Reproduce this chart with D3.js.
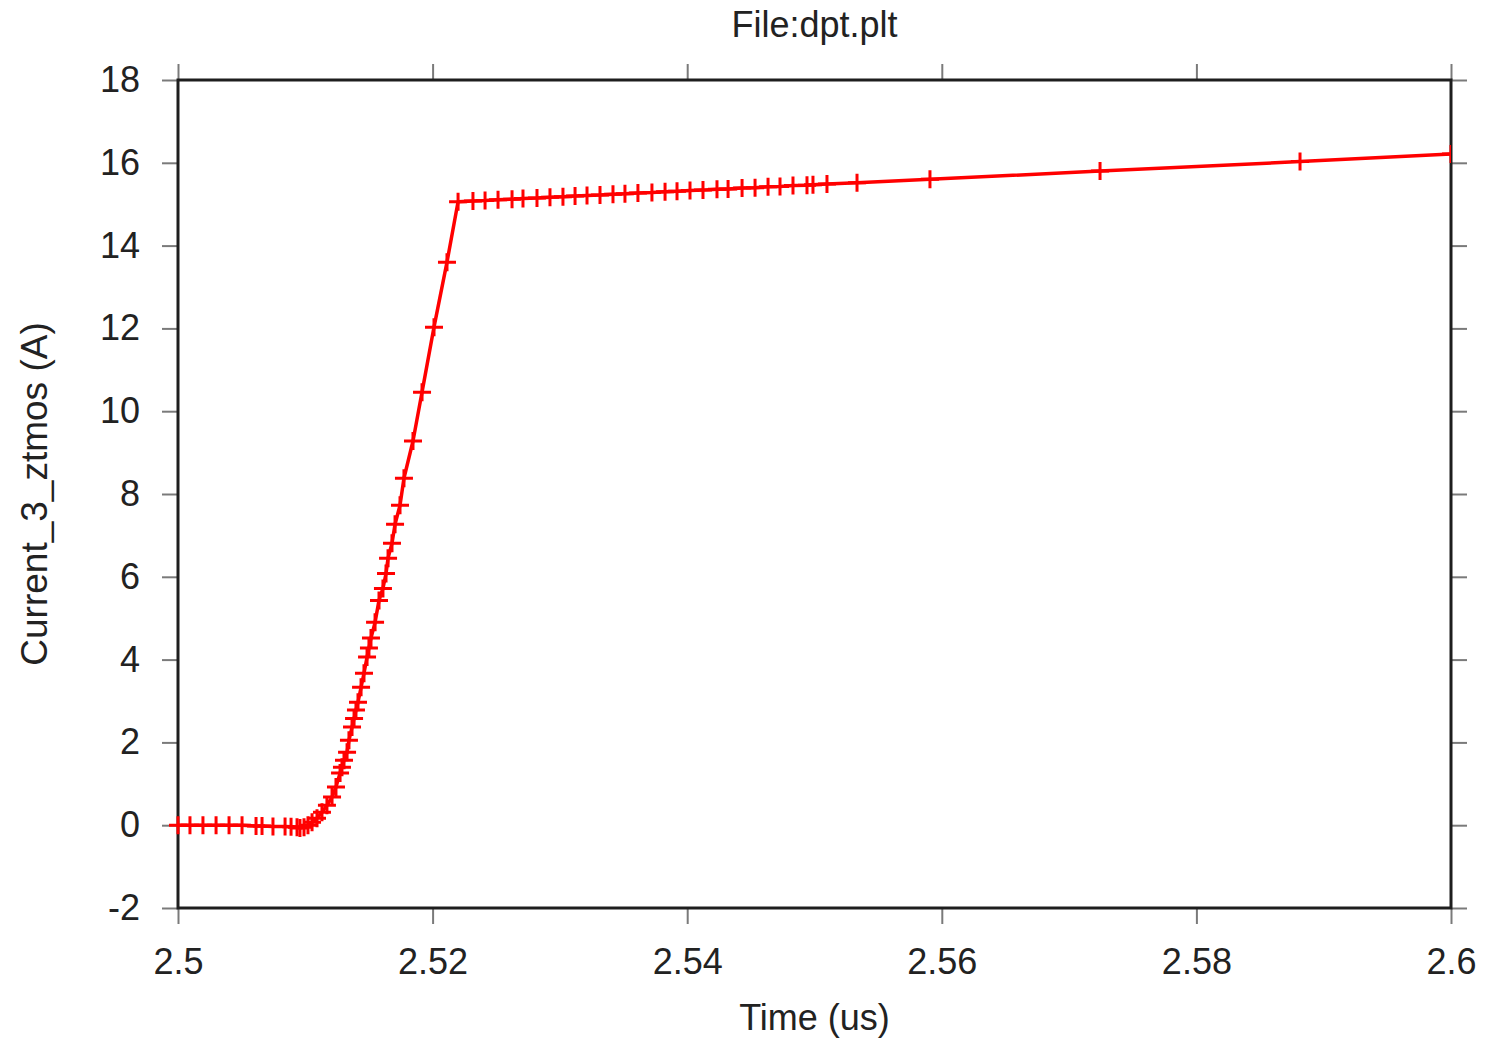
<!DOCTYPE html>
<html>
<head>
<meta charset="utf-8">
<script src="https://cdn.jsdelivr.net/npm/d3@7"></script>
<style>
  html, body { margin: 0; padding: 0; background: #fff; }
  svg { display: block; font-family: "Liberation Sans", Arial, sans-serif; }
</style>
</head>
<body>
<svg id="chart" width="1511" height="1041"></svg>
<script>
// Simulated drain current of the low-side MOSFET during turn-on (double pulse test)
const timeUs = [
  2.5000, 2.50094, 2.50196, 2.50299, 2.50401, 2.50503, 2.50613, 2.50660, 2.50746, 2.50841,
  2.50888, 2.50935, 2.50958, 2.50990, 2.51021, 2.51053, 2.51092, 2.51131, 2.51170, 2.51210,
  2.51241, 2.51273, 2.51288, 2.51304, 2.51328, 2.51343, 2.51367, 2.51383, 2.51398, 2.51414,
  2.51438, 2.51461, 2.51485, 2.51500, 2.51516, 2.51548, 2.51579, 2.51610, 2.51634, 2.51650,
  2.51681, 2.51705, 2.51744, 2.51775, 2.51846, 2.51917, 2.52011, 2.52113, 2.52200,
  2.52317, 2.52412, 2.52514, 2.52624, 2.52710, 2.52820, 2.52922, 2.53024, 2.53119, 2.53213,
  2.53315, 2.53417, 2.53511, 2.53613, 2.53723, 2.53826, 2.53920, 2.54022, 2.54124, 2.54234,
  2.54321, 2.54431, 2.54533, 2.54635, 2.54729, 2.54831, 2.54941, 2.54988, 2.55098, 2.55334,
  2.55907, 2.57243, 2.58814, 2.6000
];
const currentA = [
  0.00, 0.00, 0.00, 0.00, 0.00, 0.00, -0.02, -0.02, -0.03, -0.03,
  -0.04, -0.05, -0.07, -0.05, 0.00, 0.07, 0.17, 0.31, 0.48, 0.68,
  0.92, 1.26, 1.40, 1.57, 1.76, 2.05, 2.37, 2.58, 2.78, 2.97,
  3.33, 3.67, 4.06, 4.28, 4.52, 4.90, 5.43, 5.72, 6.08, 6.45,
  6.81, 7.27, 7.73, 8.38, 9.28, 10.46, 12.03, 13.60, 15.06,
  15.08, 15.09, 15.11, 15.12, 15.14, 15.15, 15.17, 15.18, 15.20, 15.21,
  15.22, 15.24, 15.25, 15.27, 15.28, 15.30, 15.31, 15.33, 15.34, 15.36,
  15.37, 15.39, 15.40, 15.42, 15.43, 15.45, 15.46, 15.47, 15.49, 15.52,
  15.60, 15.80, 16.03, 16.21
];
const xTicks = [2.5, 2.52, 2.54, 2.56, 2.58, 2.6];
const xTickLabels = ["2.5", "2.52", "2.54", "2.56", "2.58", "2.6"];
const yTicks = [-2, 0, 2, 4, 6, 8, 10, 12, 14, 16, 18];
const yTickLabels = ["-2", "0", "2", "4", "6", "8", "10", "12", "14", "16", "18"];
const titleText = "File:dpt.plt";
const xLabel = "Time (us)";
const yLabel = "Current_3_ztmos (A)";

const data = timeUs.map((t, i) => ({ t, v: currentA[i] }));

const svg = d3.select("#chart");
const margin = { left: 178, right: 60, top: 80, bottom: 133 };
const W = 1511, H = 1041;
const x0 = margin.left, x1 = W - margin.right;
const y0 = H - margin.bottom, y1 = margin.top;

const x = d3.scaleLinear().domain([2.5, 2.6]).range([x0, x1]);
const y = d3.scaleLinear().domain([-2, 18]).range([y0, y1]);

const fontSize = 36;
const tickLen = 16;
const tickColor = "#7a7a7a";

// Axes with outward ticks on all four sides
const axisBottom = d3.axisBottom(x).tickValues(xTicks)
  .tickFormat((d, i) => xTickLabels[i]).tickSizeInner(tickLen).tickSizeOuter(0).tickPadding(24);
const axisTop = d3.axisTop(x).tickValues(xTicks).tickFormat("").tickSizeInner(tickLen).tickSizeOuter(0);
const axisLeft = d3.axisLeft(y).tickValues(yTicks).tickFormat((d, i) => yTickLabels[i])
  .tickSizeInner(tickLen).tickSizeOuter(0).tickPadding(22);
const axisRight = d3.axisRight(y).tickValues(yTicks).tickFormat("").tickSizeInner(tickLen).tickSizeOuter(0);

function styleAxis(g) {
  g.select(".domain").remove();
  g.selectAll(".tick line").attr("stroke", tickColor).attr("stroke-width", 2);
  g.selectAll(".tick text")
    .attr("fill", "#222")
    .attr("font-size", fontSize)
    .attr("font-family", "Liberation Sans, Arial, sans-serif");
}

svg.append("g").attr("transform", `translate(0,${y0})`).call(axisBottom).call(styleAxis);
svg.append("g").attr("transform", `translate(0,${y1})`).call(axisTop).call(styleAxis);
svg.append("g").attr("transform", `translate(${x0},0)`).call(axisLeft).call(styleAxis);
svg.append("g").attr("transform", `translate(${x1},0)`).call(axisRight).call(styleAxis);

// Plot frame
svg.append("rect")
  .attr("x", x0).attr("y", y1)
  .attr("width", x1 - x0).attr("height", y0 - y1)
  .attr("fill", "none").attr("stroke", "#1e1e1e").attr("stroke-width", 3);

// Clip path for the series
svg.append("clipPath").attr("id", "plotClip")
  .append("rect").attr("x", x0 - 12).attr("y", y1).attr("width", x1 - x0 + 12).attr("height", y0 - y1);

const series = svg.append("g").attr("clip-path", "url(#plotClip)");

const line = d3.line().x(d => x(d.t)).y(d => y(d.v));
series.append("path")
  .datum(data)
  .attr("d", line)
  .attr("fill", "none")
  .attr("stroke", "#ff0000")
  .attr("stroke-width", 3.5)
  .attr("stroke-linejoin", "round");

// "+" markers at each sample
const half = 9;
series.selectAll("path.marker")
  .data(data)
  .join("path")
  .attr("class", "marker")
  .attr("d", d => {
    const cx = x(d.t), cy = y(d.v);
    return `M${cx - half},${cy}H${cx + half}M${cx},${cy - half}V${cy + half}`;
  })
  .attr("stroke", "#ff0000")
  .attr("stroke-width", 3)
  .attr("fill", "none");

// Title and axis labels
svg.append("text")
  .attr("x", (x0 + x1) / 2).attr("y", 37)
  .attr("text-anchor", "middle")
  .attr("font-size", fontSize)
  .attr("fill", "#222")
  .text(titleText);

svg.append("text")
  .attr("x", (x0 + x1) / 2).attr("y", 1030)
  .attr("text-anchor", "middle")
  .attr("font-size", fontSize)
  .attr("fill", "#222")
  .text(xLabel);

svg.append("text")
  .attr("transform", `translate(47,${(y0 + y1) / 2}) rotate(-90)`)
  .attr("text-anchor", "middle")
  .attr("font-size", fontSize + 1)
  .attr("fill", "#222")
  .text(yLabel);
</script>
</body>
</html>
